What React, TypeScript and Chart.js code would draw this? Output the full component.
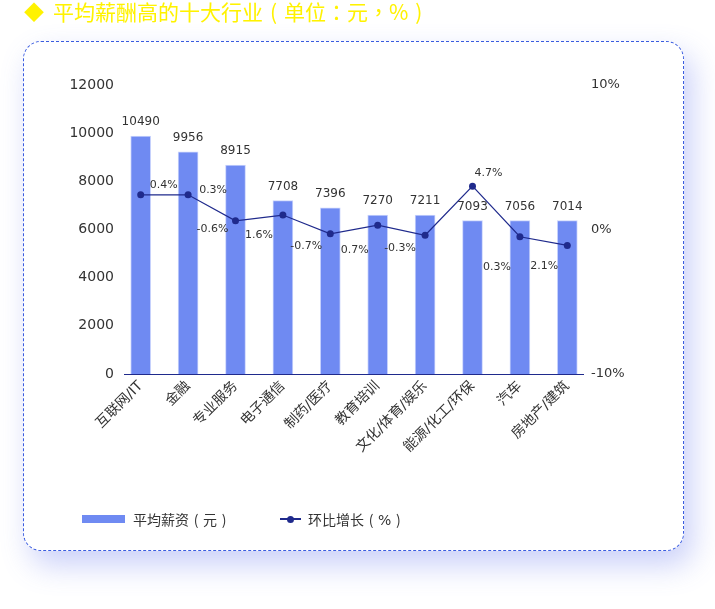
import React, { useEffect, useRef } from "react";
import { Chart, registerables } from "chart.js";

Chart.register(...registerables);

// ---- data ----
const industries = [
  "互联网/IT",
  "金融",
  "专业服务",
  "电子通信",
  "制药/医疗",
  "教育培训",
  "文化/体育/娱乐",
  "能源/化工/环保",
  "汽车",
  "房地产/建筑",
];
const salaryValues = [9880, 9230, 8680, 7200, 6900, 6600, 6600, 6370, 6370, 6370];
const salaryLabels = ["10490", "9956", "8915", "7708", "7396", "7270", "7211", "7093", "7056", "7014"];
const changeValues = [2.4, 2.4, 0.6, 1.0, -0.3, 0.3, -0.4, 3.0, -0.5, -1.1];
const changeLabels = ["0.4%", "0.3%", "-0.6%", "1.6%", "-0.7%", "0.7%", "-0.3%", "4.7%", "0.3%", "2.1%"];
const leftTicks = { min: 0, max: 12000, step: 2000 };
const rightTicks = { min: -10, max: 10, step: 10 };

// ---- layout (label offsets relative to each point) ----
const changeLabelOffsets: [number, number][] = [
  [23, -10], [25, -5], [-23, 8], [-24, 20], [-24, 12],
  [-23, 25], [-25, 13], [16, -13], [-23, 30], [-23, 21],
];

const FONT = '"DejaVu Sans", "Noto Sans CJK SC", sans-serif';
const BAR_COLOR = "#6f8af2";
const LINE_COLOR = "#1f2a8c";
const TEXT = "#333333";

const labelPlugin = {
  id: "customLabels",
  afterDatasetsDraw(chart: any) {
    const ctx = chart.ctx;
    const barMeta = chart.getDatasetMeta(0);
    const lineMeta = chart.getDatasetMeta(1);
    const yScale = chart.scales.y;
    ctx.save();
    const y0 = Math.round(yScale.getPixelForValue(0)) + 0.5;
    ctx.strokeStyle = LINE_COLOR;
    ctx.lineWidth = 1;
    ctx.beginPath();
    ctx.moveTo(chart.chartArea.left + 7, y0);
    ctx.lineTo(chart.chartArea.right - 7, y0);
    ctx.stroke();

    ctx.fillStyle = TEXT;
    ctx.textAlign = "center";
    ctx.textBaseline = "middle";
    ctx.font = `12px ${FONT}`;
    barMeta.data.forEach((bar: any, i: number) => {
      ctx.fillText(salaryLabels[i], bar.x, bar.y - 14);
    });
    ctx.font = `11px ${FONT}`;
    lineMeta.data.forEach((pt: any, i: number) => {
      const [dx, dy] = changeLabelOffsets[i];
      ctx.fillText(changeLabels[i], pt.x + dx, pt.y + dy);
    });
    ctx.restore();
  },
};

// punctuation centred in a full-width cell
function Punct({ ch, w }: { ch: string; w: number }) {
  return (
    <span
      style={{
        display: "inline-block",
        width: w,
        textAlign: "center",
        fontFamily: '"Noto Sans CJK TC", sans-serif',
      }}
    >
      {ch}
    </span>
  );
}

export default function App() {
  const canvasRef = useRef<HTMLCanvasElement | null>(null);

  useEffect(() => {
    if (!canvasRef.current) return;
    const chart = new Chart(canvasRef.current, {
      type: "bar",
      data: {
        labels: industries,
        datasets: [
          {
            type: "bar",
            label: "平均薪资（元）",
            data: salaryValues,
            backgroundColor: BAR_COLOR,
            borderColor: "#c9d3fc",
            borderWidth: 1,
            barThickness: 20,
            yAxisID: "y",
            order: 2,
          },
          {
            type: "line",
            label: "环比增长（%）",
            data: changeValues,
            borderColor: LINE_COLOR,
            backgroundColor: LINE_COLOR,
            borderWidth: 1.2,
            pointRadius: 3.5,
            pointBorderWidth: 0,
            pointBackgroundColor: LINE_COLOR,
            tension: 0,
            yAxisID: "y1",
            order: 1,
          },
        ],
      },
      options: {
        responsive: false,
        animation: false,
        devicePixelRatio: 1,
        layout: { padding: { left: 0, right: 0, top: 85, bottom: 155 } },
        plugins: { legend: { display: false }, tooltip: { enabled: false } },
        scales: {
          x: {
            offset: true,
            grid: { display: false, drawTicks: false },
            border: { display: false },
            ticks: {
              color: TEXT,
              font: { family: FONT, size: 14 },
              minRotation: 45,
              maxRotation: 45,
              autoSkip: false,
              padding: 4,
            },
            afterFit(scale: any) {
              scale.height = 80;
            },
          },
          y: {
            position: "left",
            min: leftTicks.min,
            max: leftTicks.max,
            grid: { display: false, drawTicks: false },
            border: { display: false },
            ticks: {
              stepSize: leftTicks.step,
              color: TEXT,
              font: { family: FONT, size: 14 },
              padding: 3,
              callback: (v: any) => String(v),
            },
            afterFit(scale: any) {
              scale.width = 117;
            },
          },
          y1: {
            position: "right",
            min: rightTicks.min,
            max: rightTicks.max,
            grid: { display: false, drawTicks: false },
            border: { display: false },
            ticks: {
              stepSize: rightTicks.step,
              color: TEXT,
              font: { family: FONT, size: 13 },
              padding: 0,
              callback: (v: any) => `${v}%`,
            },
            afterFit(scale: any) {
              scale.width = 124;
            },
          },
        },
      },
      plugins: [labelPlugin],
    } as any);
    return () => chart.destroy();
  }, []);

  const legendText: any = {
    position: "absolute",
    top: 509,
    lineHeight: "20px",
    fontSize: 14,
    fontFamily: '"DejaVu Sans", "Noto Sans CJK TC", sans-serif',
    color: TEXT,
    whiteSpace: "nowrap",
  };

  return (
    <div style={{ position: "absolute", left: 0, top: 0, width: 715, height: 609, overflow: "hidden", background: "#fff" }}>
      <div
        style={{
          position: "absolute",
          left: 23,
          top: 41,
          width: 661,
          height: 510,
          boxSizing: "border-box",
          border: "1px dashed #3a5ce0",
          borderRadius: 18,
          background: "#fff",
          boxShadow: "8px 14px 30px rgba(90,110,235,0.32)",
        }}
      />
      <canvas
        ref={canvasRef}
        width={715}
        height={609}
        style={{ position: "absolute", left: 0, top: 0, width: 715, height: 609 }}
      />
      <div
        style={{
          position: "absolute",
          left: 24,
          top: 0,
          height: 22,
          lineHeight: "22px",
          fontFamily: '"Noto Sans CJK TC", sans-serif',
          fontSize: 21,
          color: "#fff200",
          whiteSpace: "nowrap",
        }}
      >
        <span style={{ display: "inline-block", width: 29, fontSize: 20 }}>◆</span>
        平均薪酬高的十大行业<Punct ch="(" w={21} />单位<Punct ch="：" w={21} />元<Punct ch="，" w={21} />%<Punct ch=")" w={21} />
      </div>
      <div style={{ position: "absolute", left: 82, top: 515, width: 43, height: 8, background: BAR_COLOR }} />
      <div style={{ ...legendText, left: 133 }}>
        平均薪资<Punct ch="(" w={14} />元<Punct ch=")" w={14} />
      </div>
      <div style={{ position: "absolute", left: 280, top: 518, width: 21, height: 2, background: LINE_COLOR }} />
      <div
        style={{ position: "absolute", left: 287, top: 516, width: 7, height: 7, borderRadius: "50%", background: LINE_COLOR }}
      />
      <div style={{ ...legendText, left: 308 }}>
        环比增长<Punct ch="(" w={14} />%<Punct ch=")" w={14} />
      </div>
    </div>
  );
}
